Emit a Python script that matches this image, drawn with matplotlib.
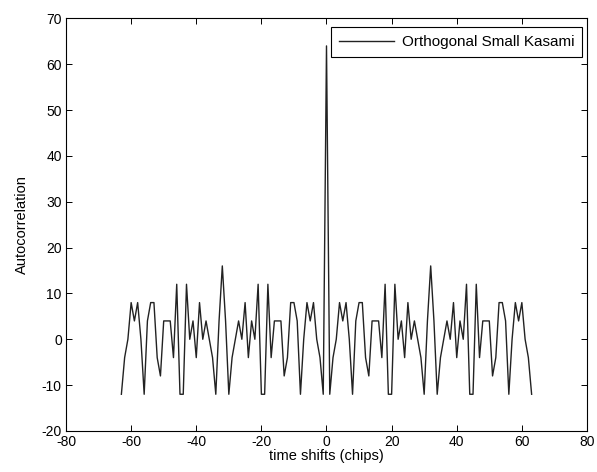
import matplotlib
matplotlib.use("Agg")
import matplotlib.pyplot as plt
import numpy as np

plt.rcParams['font.family'] = ['Liberation Sans', 'DejaVu Sans']
plt.rcParams['axes.unicode_minus'] = False

# time shifts in chips
shifts = np.arange(-63, 64)

# autocorrelation values, shift -63 ... 63
acorr_neg = [-12, -4, 0, 8, 4, 8, 0, -12, 4, 8, 8, -4, -8, 4, 4, 4,
             -4, 12, -12, -12, 12, 0, 4, -4, 8, 0, 4, 0, -4, -12, 4, 16,
             4, -12, -4, 0, 4, 0, 8, -4, 4, 0, 12, -12, -12, 12, -4, 4,
             4, 4, -8, -4, 8, 8, 4, -12, 0, 8, 4, 8, 0, -4, -12]
acorr_zero = [64]
acorr_pos = [-12, -4, 0, 8, 4, 8, 0, -12, 4, 8, 8, -4, -8, 4, 4, 4,
             -4, 12, -12, -12, 12, 0, 4, -4, 8, 0, 4, 0, -4, -12, 4, 16,
             4, -12, -4, 0, 4, 0, 8, -4, 4, 0, 12, -12, -12, 12, -4, 4,
             4, 4, -8, -4, 8, 8, 4, -12, 0, 8, 4, 8, 0, -4, -12]
acorr = acorr_neg + acorr_zero + acorr_pos

fig = plt.figure(figsize=(5.97, 4.72), dpi=100)
ax = fig.add_axes([0.1106, 0.087, 0.8726, 0.874])

ax.plot(shifts, acorr, color='#222222', linewidth=1.0, label='Orthogonal Small Kasami')

ax.set_xlim(-80, 80)
ax.set_ylim(-20, 70)
ax.set_xticks(np.arange(-80, 81, 20))
ax.set_yticks(np.arange(-20, 71, 10))
ax.tick_params(direction='in', top=True, right=True, labelsize=10, length=4, width=0.7, pad=3)
for s in ax.spines.values():
    s.set_linewidth(0.8)

ax.set_xlabel('time shifts (chips)', fontsize=10.5, labelpad=0)
ax.set_ylabel('Autocorrelation', fontsize=10.5, labelpad=9)

leg = ax.legend(loc='upper right', bbox_to_anchor=(0.990, 0.978), borderaxespad=0,
                fontsize=11, fancybox=False, framealpha=1, edgecolor='black',
                handlelength=3.6, handletextpad=0.5, borderpad=0.5)
leg.get_frame().set_linewidth(0.8)

fig.savefig('out.png', dpi=100)
